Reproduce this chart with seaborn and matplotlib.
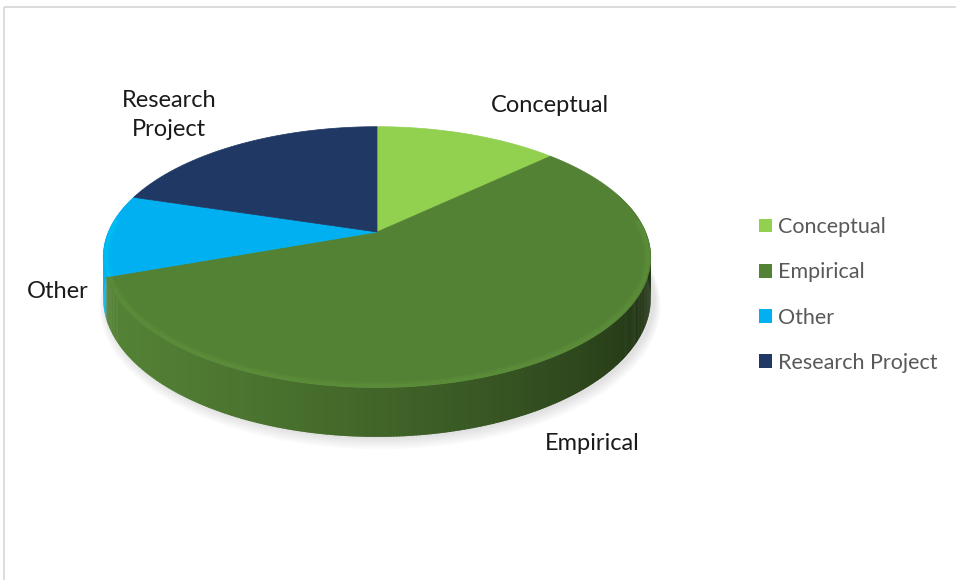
import numpy as np
import matplotlib
matplotlib.use("Agg")
import matplotlib.pyplot as plt
from matplotlib.patches import Polygon, Patch, Rectangle
import matplotlib.colors as mcolors
import seaborn as sns

# ---- data -------------------------------------------------------------
categories = ["Conceptual", "Empirical", "Other", "Research Project"]
counts = [9, 39, 7, 14]
slice_colors = ["#92d050", "#548235", "#00b0f0", "#203864"]
slice_labels = ["Conceptual", "Empirical", "Other", "Research\nProject"]

# ---- style ------------------------------------------------------------
sns.set_theme(style="white")
plt.rcParams["font.family"] = ["Lato", "DejaVu Sans"]

W, H = 956, 580
fig = plt.figure(figsize=(W / 100, H / 100), dpi=100)
ax = fig.add_axes([0, 0, 1, 1])

# flat pie in unit coordinates; each wedge is then re-drawn as a tilted disc
wedges, _ = ax.pie(counts, colors=slice_colors, startangle=90,
                   counterclock=False, radius=1.0, center=(0, 0))
for w in wedges:
    w.set_visible(False)

ax.set_aspect("auto")
ax.set_xlim(0, W)
ax.set_ylim(H, 0)
ax.axis("off")

# perspective camera for the tilted disc (pixel space)
CX, CY = 377.0, 232.0
DIST, SIN_T, COS_T, FOC = 4.59, 0.884, 0.4675, 1233.0
THICK = 183.0


def project(px, py, drop=0.0):
    z = DIST + py * SIN_T
    x = CX + FOC * px / z
    y = CY - FOC * py * COS_T / z + drop * THICK / z
    return x, y


def shade(color, factor):
    r, g, b = mcolors.to_rgb(color)
    return (min(r * factor, 1), min(g * factor, 1), min(b * factor, 1))


# soft shadow under the disc
ring = np.radians(np.linspace(0, 360, 361))
for k in range(6, 0, -1):
    rr = 1.0 + 0.004 * k
    sx, sy = project(rr * np.cos(ring), rr * np.sin(ring), drop=1.0 + 0.025 * k)
    ax.add_patch(Polygon(np.column_stack([sx + 3, sy]), closed=True,
                         facecolor="#000000", edgecolor="none", alpha=0.02,
                         zorder=1))

# side wall, built from the wedge angles (strips overlap slightly to avoid seams)
quads = []
for w in wedges:
    t1, t2 = w.theta1, w.theta2
    n = max(int((t2 - t1) / 0.5), 2)
    ts = np.linspace(t1, t2, n + 1)
    step = ts[1] - ts[0]
    for a, b in zip(ts[:-1], ts[1:]):
        mid = np.radians(0.5 * (a + b))
        if np.sin(mid) > 0.3:
            continue
        b_ext = min(b + 0.6 * step, t2)
        ra, rb = np.radians(a), np.radians(b_ext)
        xa0, ya0 = project(np.cos(ra), np.sin(ra))
        xb0, yb0 = project(np.cos(rb), np.sin(rb))
        xa1, ya1 = project(np.cos(ra), np.sin(ra), drop=1.0)
        xb1, yb1 = project(np.cos(rb), np.sin(rb), drop=1.0)
        phi = (90 - np.degrees(mid)) % 360
        fac = 0.66 + 0.34 * np.cos(np.radians(phi - 250))
        col = shade(w.get_facecolor(), fac)
        quads.append((np.sin(mid), [(xa0, ya0), (xb0, yb0), (xb1, yb1), (xa1, ya1)], col))

quads.sort(key=lambda q: -q[0])
for _, pts, col in quads:
    ax.add_patch(Polygon(pts, closed=True, facecolor=col, edgecolor="none",
                         linewidth=0, zorder=2))

# top faces
for w in wedges:
    ang = np.radians(np.linspace(w.theta1, w.theta2, 200))
    px = np.concatenate([[w.center[0]], w.r * np.cos(ang)])
    py = np.concatenate([[w.center[1]], w.r * np.sin(ang)])
    x, y = project(px, py)
    fc = w.get_facecolor()
    ax.add_patch(Polygon(np.column_stack([x, y]), closed=True, facecolor=fc,
                         edgecolor=fc, linewidth=0.5, zorder=3))
    # soft light bevel along the front rim
    front = np.sin(ang) < 0.1
    if front.sum() > 1:
        for rr, lw, al in [(0.992, 2.5, 0.18), (0.985, 3.5, 0.12)]:
            bx, by = project(rr * np.cos(ang[front]), rr * np.sin(ang[front]))
            ax.plot(bx, by, color=shade(fc, 1.3), lw=lw, alpha=al,
                    solid_capstyle="butt", zorder=4)

# slice labels
label_pos = [(550, 106), (592, 443), (58, 291), (169, 115)]
for txt, (lx, ly) in zip(slice_labels, label_pos):
    ax.text(lx, ly, txt, ha="center", va="center", fontsize=17,
            color="#1a1a1a", linespacing=1.45, zorder=5)

# legend
handles = [Patch(facecolor=c, edgecolor="none") for c in slice_colors]
leg = ax.legend(handles, categories, loc="center left",
                bbox_to_anchor=(759 / W, 1 - 295 / H), bbox_transform=ax.transAxes,
                frameon=False, fontsize=15.5, handlelength=0.6, handleheight=0.6,
                handletextpad=0.3, labelspacing=1.17, borderpad=0, borderaxespad=0)
for t in leg.get_texts():
    t.set_color("#595959")

# chart area border
ax.add_patch(Rectangle((4, 7), W, H, fill=False, edgecolor="#d9d9d9",
                       linewidth=1.3, zorder=0))

fig.savefig("out.png", dpi=100)
